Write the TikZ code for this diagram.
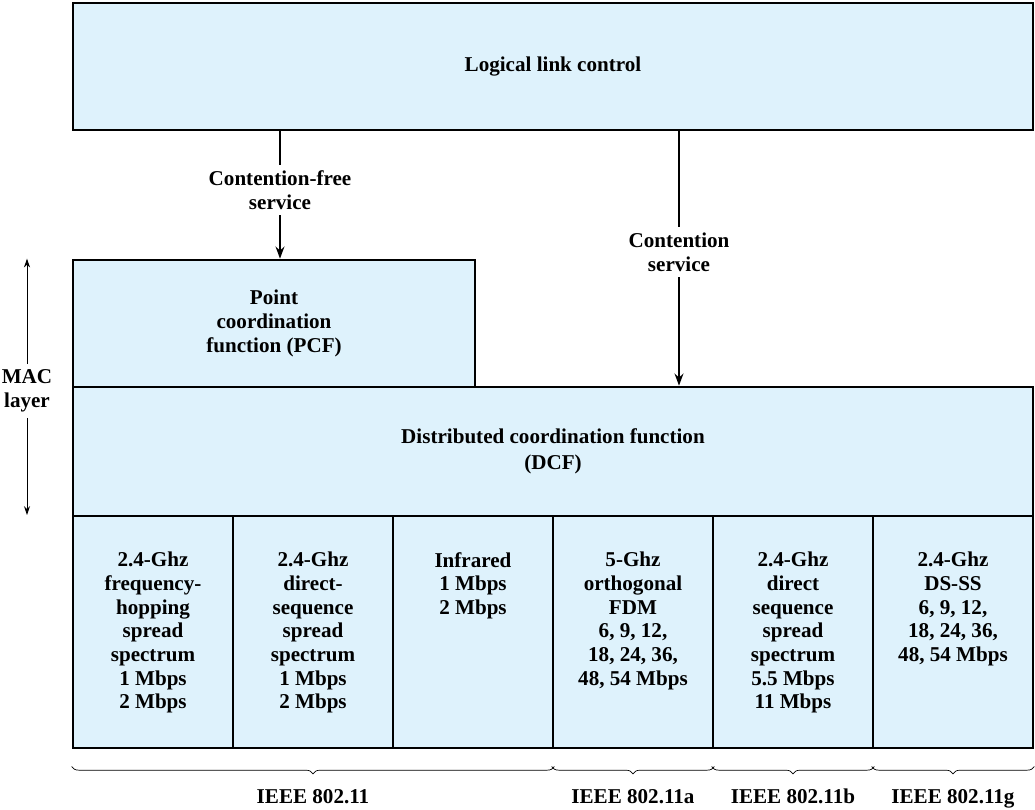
\documentclass[tikz,border=0pt]{standalone}
\usepackage{fontspec}
\setmainfont{Liberation Serif}
\usetikzlibrary{arrows.meta,positioning,decorations.pathreplacing}
\definecolor{boxfill}{RGB}{222,242,252}
\tikzset{blk/.style={draw,line width=1.9pt,fill=boxfill,inner sep=0pt},
 cell/.style={blk,minimum width=4cm,minimum height=5.8cm},
 txt/.style={align=center,font=\bfseries\fontsize{15}{16.8}\selectfont,inner sep=1pt},
 lbl/.style={txt,inner sep=4pt},
 wire/.style={line width=1.6pt},
 flow/.style={-{Stealth[length=3mm,width=2.2mm]},line width=1.6pt},
 thin/.style={-{Stealth[length=2.2mm,width=1.5mm]},line width=.6pt},
 brc/.style={decorate,decoration={brace,mirror,amplitude=.18cm},line width=.5pt}}
\begin{document}
\begin{tikzpicture}[x=0.025cm,y=-0.025cm]
\useasboundingbox (0,0) rectangle (1035,810);
% upper layers
\node[blk,minimum width=24cm,minimum height=3.175cm] (llc) at (553,66.5) {};
\node[txt] at (llc) {Logical link control};
\node[blk,minimum width=10.05cm,minimum height=3.175cm] (pcf) at (274,323.5) {};
\node[txt] at (pcf) {Point\\coordination\\function (PCF)};
\node[blk,minimum width=24cm,minimum height=3.225cm] (dcf) at (553,451.5) {};
\node[txt] at (dcf) {Distributed coordination function\\[2pt](DCF)};
% physical layers
\foreach \i/\t in {1/{2.4-Ghz\\frequency-\\hopping\\spread\\spectrum\\1 Mbps\\2 Mbps},
 2/{2.4-Ghz\\direct-\\sequence\\spread\\spectrum\\1 Mbps\\2 Mbps},
 3/{Infrared\\1 Mbps\\2 Mbps},
 4/{5-Ghz\\orthogonal\\FDM\\6, 9, 12,\\18, 24, 36,\\48, 54 Mbps},
 5/{2.4-Ghz\\direct\\sequence\\spread\\spectrum\\5.5 Mbps\\11 Mbps},
 6/{2.4-Ghz\\DS-SS\\6, 9, 12,\\18, 24, 36,\\48, 54 Mbps}}{
 \node[cell] (c\i) at ({-7+160*\i},632) {};
 \node[txt,anchor=north,below=0.9cm of c\i.north] (t\i) {\t};
}
% services
\node[lbl] (cfree) at (280,190) {Contention-free\\service};
\draw[wire] (llc.south -| cfree) -- (cfree.north);
\draw[flow] (cfree.south) -- (pcf.north -| cfree);
\node[lbl] (cserv) at (679,252) {Contention\\service};
\draw[wire] (llc.south -| cserv) -- (cserv.north);
\draw[flow] (cserv.south) -- (dcf.north -| cserv);
% MAC layer span
\node[lbl] (mac) at (27,391) {MAC\\layer};
\coordinate (macbot) at (27,515);
\draw[thin] (mac.north) -- (pcf.north -| mac);
\draw[thin] (mac.south) -- (macbot);
% standards
\draw[brc] ([yshift=-.43cm]c1.south west) -- ([yshift=-.43cm]c3.south east);
\draw[brc] ([yshift=-.43cm]c4.south west) -- ([yshift=-.43cm]c4.south east);
\draw[brc] ([yshift=-.43cm]c5.south west) -- ([yshift=-.43cm]c5.south east);
\draw[brc] ([yshift=-.43cm]c6.south west) -- ([yshift=-.43cm]c6.south east);
\node[txt,anchor=base] (s1) at (313,803) {IEEE 802.11};
\node[txt,anchor=base] (s2) at (633,803) {IEEE 802.11a};
\node[txt,anchor=base] (s3) at (793,803) {IEEE 802.11b};
\node[txt,anchor=base] (s4) at (953,803) {IEEE 802.11g};
\end{tikzpicture}
\end{document}
